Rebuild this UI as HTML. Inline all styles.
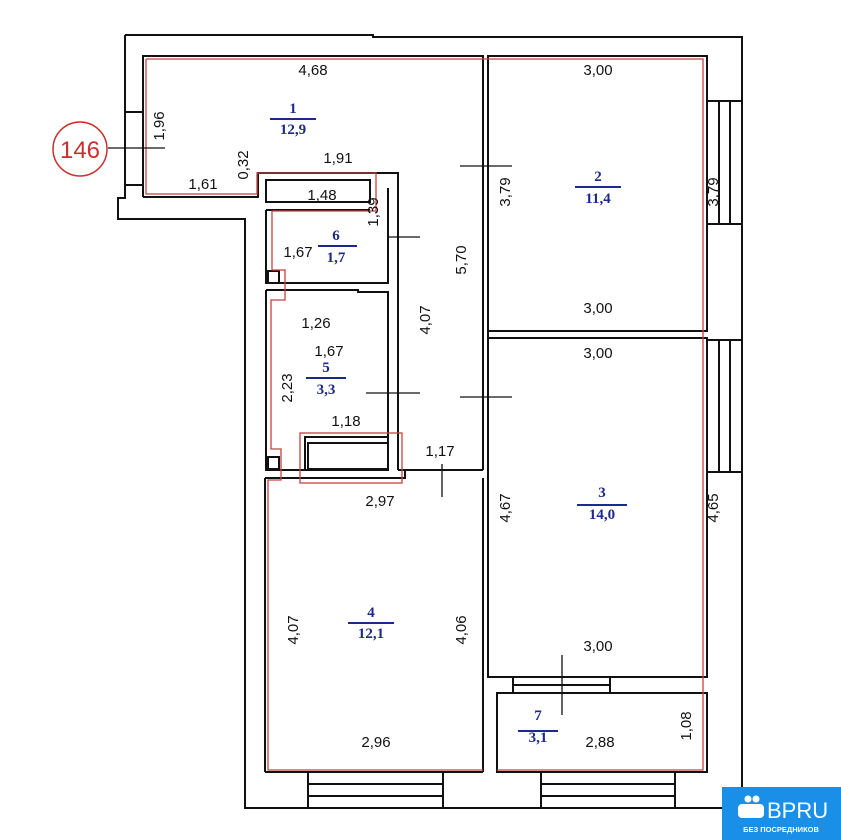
<!DOCTYPE html>
<html><head><meta charset="utf-8"><style>
html,body{margin:0;padding:0;background:#fff;}
svg{display:block;}
.d{font-family:"Liberation Sans",sans-serif;font-size:15px;fill:#111;}
.n{font-family:"Liberation Serif",serif;font-size:15px;font-weight:bold;fill:#1c2a8c;}
</style></head><body>
<svg width="841" height="840" viewBox="0 0 841 840" xmlns="http://www.w3.org/2000/svg">
<g fill="none" stroke="#111" stroke-width="2">
<!-- outer -->
<polyline points="125,35 373,35 373,37 742,37 742,808 245,808 245,219 118,219 118,198 125,198 125,35"/>
<line x1="125" y1="112" x2="143" y2="112"/><line x1="125" y1="185" x2="143" y2="185"/>
<!-- room 1 -->
<polyline points="143,197 143,56 483,56 483,470"/>
<polyline points="143,197 258,197 258,173 398,173 398,470"/>
<line x1="488" y1="56" x2="488" y2="470"/>
<!-- room 2 -->
<rect x="488" y="56" width="219" height="275"/>
<!-- room 3 -->
<rect x="488" y="338" width="219" height="339"/>
<!-- windows right -->
<rect x="707" y="101" width="35" height="123"/><line x1="719" y1="101" x2="719" y2="224"/><line x1="730" y1="101" x2="730" y2="224"/>
<rect x="707" y="340" width="35" height="132"/><line x1="719" y1="340" x2="719" y2="472"/><line x1="730" y1="340" x2="730" y2="472"/>
<!-- balcony door -->
<rect x="513" y="677" width="97" height="16"/><line x1="513" y1="685" x2="610" y2="685"/>
<!-- room 7 -->
<rect x="497" y="693" width="210" height="79"/>
<!-- room 4 -->
<polyline points="265,478 405,478 405,470 483,470"/>
<line x1="265" y1="478" x2="265" y2="772"/><line x1="265" y1="772" x2="483" y2="772"/><line x1="483" y1="478" x2="483" y2="772"/>
<!-- bottom windows -->
<rect x="308" y="772" width="135" height="36"/><line x1="308" y1="784" x2="443" y2="784"/><line x1="308" y1="796" x2="443" y2="796"/>
<rect x="541" y="772" width="134" height="36"/><line x1="541" y1="784" x2="675" y2="784"/><line x1="541" y1="796" x2="675" y2="796"/>
<!-- bathroom 6 -->
<polyline points="266,210 266,283 388,283 388,188"/><line x1="266" y1="210" x2="370" y2="210"/>
<rect x="266" y="180" width="104" height="22"/>
<rect x="268" y="271" width="11" height="12"/>
<!-- room 5 -->
<polyline points="266,290 266,470 305,470"/><polyline points="266,290 358,290 358,292 388,292 388,470"/>
<rect x="305" y="437" width="83" height="33"/><rect x="308" y="443" width="80" height="26"/>
<rect x="268" y="457" width="11" height="12"/>
<line x1="398" y1="470" x2="405" y2="470"/>
</g>
<!-- red outlines -->
<g fill="none" stroke="#c84040" stroke-width="1.3">
<polyline points="146,59 703,59 703,770 497,770"/>
<polyline points="146,59 146,194 257,194 257,173 376,173 376,211 272,211 272,270 285,270 285,300 271,300 271,449 281,449 281,480 268,480 268,770 483,770"/>
<rect x="300" y="433" width="102" height="50"/>
</g>
<!-- door ticks -->
<g stroke="#111" stroke-width="1.3">
<line x1="460" y1="166" x2="512" y2="166"/><line x1="388" y1="237" x2="420" y2="237"/>
<line x1="366" y1="393" x2="420" y2="393"/><line x1="460" y1="397" x2="512" y2="397"/>
<line x1="442" y1="464" x2="442" y2="497"/><line x1="562" y1="655" x2="562" y2="715"/>
<line x1="108" y1="148" x2="165" y2="148"/>
</g>
<!-- circle 146 -->
<circle cx="80" cy="149" r="27" fill="none" stroke="#c83030" stroke-width="1.5"/>
<text x="80" y="158" text-anchor="middle" font-family="Liberation Sans,sans-serif" font-size="24" fill="#c83030">146</text>
<!-- dimensions -->
<g class="d" text-anchor="middle">
<text x="313" y="75">4,68</text><text x="338" y="163">1,91</text><text x="203" y="189">1,61</text>
<text x="598" y="75">3,00</text><text x="598" y="313">3,00</text><text x="598" y="358">3,00</text>
<text x="598" y="651">3,00</text><text x="600" y="747">2,88</text><text x="380" y="506">2,97</text>
<text x="376" y="747">2,96</text><text x="322" y="200">1,48</text><text x="298" y="257">1,67</text>
<text x="316" y="328">1,26</text><text x="329" y="356">1,67</text><text x="346" y="426">1,18</text>
<text x="440" y="456">1,17</text>
</g>
<g class="d" text-anchor="middle">
<text transform="translate(164,126) rotate(-90)">1,96</text>
<text transform="translate(248,165) rotate(-90)">0,32</text>
<text transform="translate(378,212) rotate(-90)">1,39</text>
<text transform="translate(466,260) rotate(-90)">5,70</text>
<text transform="translate(430,320) rotate(-90)">4,07</text>
<text transform="translate(510,192) rotate(-90)">3,79</text>
<text transform="translate(718,192) rotate(-90)">3,79</text>
<text transform="translate(292,388) rotate(-90)">2,23</text>
<text transform="translate(510,508) rotate(-90)">4,67</text>
<text transform="translate(718,508) rotate(-90)">4,65</text>
<text transform="translate(298,630) rotate(-90)">4,07</text>
<text transform="translate(466,630) rotate(-90)">4,06</text>
<text transform="translate(691,726) rotate(-90)">1,08</text>
</g>
<!-- room numbers -->
<g class="n" text-anchor="middle">
<text x="293" y="113">1</text><text x="293" y="134">12,9</text>
<text x="598" y="181">2</text><text x="598" y="203">11,4</text>
<text x="336" y="240">6</text><text x="336" y="262">1,7</text>
<text x="326" y="372">5</text><text x="326" y="394">3,3</text>
<text x="602" y="497">3</text><text x="602" y="519">14,0</text>
<text x="371" y="617">4</text><text x="371" y="638">12,1</text>
<text x="538" y="720">7</text><text x="538" y="742">3,1</text>
</g>
<g stroke="#1c2a8c" stroke-width="2">
<line x1="270" y1="119" x2="316" y2="119"/><line x1="575" y1="187" x2="621" y2="187"/>
<line x1="318" y1="246" x2="357" y2="246"/><line x1="306" y1="378" x2="346" y2="378"/>
<line x1="577" y1="505" x2="627" y2="505"/><line x1="348" y1="623" x2="394" y2="623"/>
<line x1="518" y1="731" x2="558" y2="731"/>
</g>
<!-- logo -->
<rect x="722" y="787" width="119" height="53" fill="#1a8fe8"/>
<g fill="#fff">
<circle cx="748" cy="799" r="3.5"/><circle cx="756" cy="799" r="3.5"/>
<rect x="738" y="804" width="26" height="14" rx="4"/>
</g>
<text x="767" y="818" font-family="Liberation Sans,sans-serif" font-size="22" fill="#fff">BPRU</text>
<text x="781" y="832" text-anchor="middle" font-family="Liberation Sans,sans-serif" font-size="7.5" font-weight="bold" fill="#fff">БЕЗ ПОСРЕДНИКОВ</text>
</svg>
</body></html>
